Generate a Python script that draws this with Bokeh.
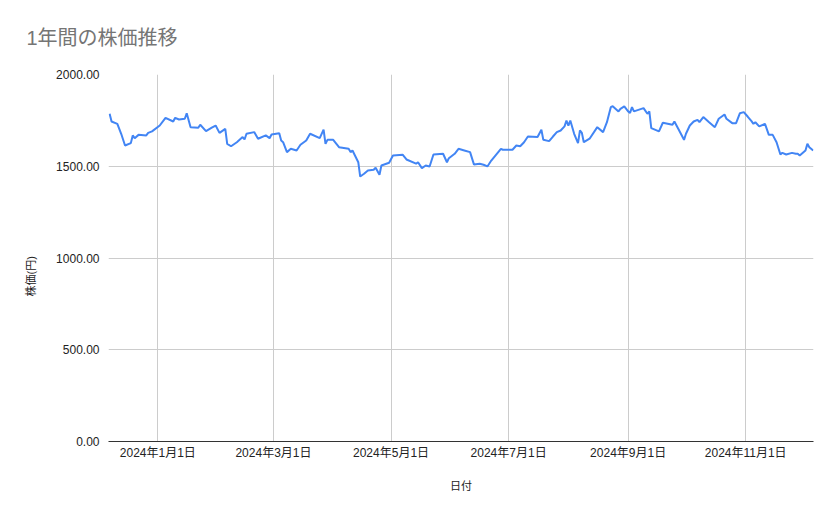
import pandas as pd
from bokeh.plotting import figure
from bokeh.models import Range1d, FixedTicker, NumeralTickFormatter, Title
from bokeh.embed import file_html
from bokeh.resources import INLINE

# ---- data ----
dates = [
    "2023-12-07", "2023-12-08", "2023-12-11", "2023-12-12", "2023-12-13", "2023-12-15",
    "2023-12-18", "2023-12-19", "2023-12-20", "2023-12-22", "2023-12-26", "2023-12-27",
    "2023-12-29", "2024-01-02", "2024-01-05", "2024-01-09", "2024-01-10", "2024-01-12",
    "2024-01-15", "2024-01-16", "2024-01-18", "2024-01-22", "2024-01-23", "2024-01-26",
    "2024-01-29", "2024-01-31", "2024-02-02", "2024-02-05", "2024-02-06", "2024-02-08",
    "2024-02-11", "2024-02-14", "2024-02-15", "2024-02-16", "2024-02-20", "2024-02-22",
    "2024-02-26", "2024-02-28", "2024-02-29", "2024-03-04", "2024-03-05", "2024-03-06",
    "2024-03-08", "2024-03-10", "2024-03-13", "2024-03-15", "2024-03-18", "2024-03-20",
    "2024-03-25", "2024-03-27", "2024-03-28", "2024-03-29", "2024-04-01", "2024-04-04",
    "2024-04-09", "2024-04-10", "2024-04-11", "2024-04-14", "2024-04-15", "2024-04-17",
    "2024-04-19", "2024-04-22", "2024-04-23", "2024-04-25", "2024-04-26", "2024-04-30",
    "2024-05-02", "2024-05-07", "2024-05-09", "2024-05-14", "2024-05-15", "2024-05-17",
    "2024-05-19", "2024-05-21", "2024-05-23", "2024-05-28", "2024-05-30", "2024-05-31",
    "2024-06-03", "2024-06-05", "2024-06-08", "2024-06-11", "2024-06-13", "2024-06-16",
    "2024-06-18", "2024-06-20", "2024-06-22", "2024-06-27", "2024-06-28", "2024-07-03",
    "2024-07-05", "2024-07-07", "2024-07-09", "2024-07-11", "2024-07-16", "2024-07-18",
    "2024-07-19", "2024-07-22", "2024-07-24", "2024-07-26", "2024-07-28", "2024-07-30",
    "2024-07-31", "2024-08-01", "2024-08-02", "2024-08-04", "2024-08-06", "2024-08-07",
    "2024-08-08", "2024-08-09", "2024-08-12", "2024-08-16", "2024-08-19", "2024-08-21",
    "2024-08-23", "2024-08-24", "2024-08-27", "2024-08-28", "2024-08-30", "2024-09-01",
    "2024-09-02", "2024-09-03", "2024-09-04", "2024-09-09", "2024-09-11", "2024-09-12",
    "2024-09-13", "2024-09-17", "2024-09-19", "2024-09-24", "2024-09-25", "2024-09-27",
    "2024-09-30", "2024-10-01", "2024-10-03", "2024-10-05", "2024-10-07", "2024-10-08",
    "2024-10-10", "2024-10-13", "2024-10-16", "2024-10-18", "2024-10-21", "2024-10-22",
    "2024-10-25", "2024-10-27", "2024-10-29", "2024-10-31", "2024-11-02", "2024-11-04",
    "2024-11-05", "2024-11-06", "2024-11-08", "2024-11-11", "2024-11-13", "2024-11-15",
    "2024-11-17", "2024-11-19", "2024-11-20", "2024-11-22", "2024-11-25", "2024-11-27",
    "2024-11-28", "2024-11-29", "2024-12-02", "2024-12-03", "2024-12-04", "2024-12-06",
]
prices = [
    1786, 1744, 1731, 1704, 1677, 1613,
    1626, 1668, 1653, 1671, 1668, 1682,
    1690, 1722, 1764, 1744, 1764, 1755,
    1759, 1789, 1713, 1710, 1726, 1691,
    1710, 1722, 1682, 1704, 1622, 1609,
    1631, 1659, 1646, 1677, 1686, 1650,
    1668, 1653, 1673, 1680, 1640, 1631,
    1577, 1595, 1586, 1617, 1640, 1677,
    1653, 1700, 1622, 1644, 1644, 1604,
    1595, 1577, 1586, 1522, 1444, 1459,
    1477, 1481, 1492, 1454, 1504, 1519,
    1559, 1563, 1537, 1514, 1522, 1490,
    1504, 1499, 1564, 1568, 1522, 1544,
    1568, 1595, 1586, 1577, 1510, 1514,
    1508, 1499, 1531, 1595, 1590, 1590,
    1613, 1609, 1631, 1662, 1659, 1699,
    1644, 1637, 1662, 1686, 1695, 1717,
    1749, 1722, 1749, 1677, 1626, 1695,
    1682, 1631, 1650, 1713, 1686, 1740,
    1822, 1827, 1799, 1813, 1826, 1799,
    1791, 1822, 1799, 1817, 1786, 1799,
    1708, 1690, 1737, 1726, 1744, 1704,
    1644, 1677, 1722, 1744, 1753, 1740,
    1768, 1740, 1713, 1759, 1782, 1759,
    1735, 1735, 1789, 1795, 1771, 1746,
    1731, 1740, 1717, 1731, 1671, 1671,
    1631, 1564, 1573, 1564, 1573, 1568,
    1568, 1559, 1586, 1622, 1604, 1586,
]
tick_dates = ["2024-01-01", "2024-03-01", "2024-05-01", "2024-07-01", "2024-09-01", "2024-11-01"]
tick_labels = ["2024年1月1日", "2024年3月1日", "2024年5月1日", "2024年7月1日", "2024年9月1日", "2024年11月1日"]
y_ticks = [0, 500, 1000, 1500, 2000]

title_text = "1年間の株価推移"
x_title = "日付"
y_title = "株価(円)"

FONT = "'Liberation Sans', 'Noto Sans CJK JP', sans-serif"

x = pd.to_datetime(dates)
tick_ms = [float(pd.Timestamp(d).value // 10**6) for d in tick_dates]

p = figure(
    width=835, height=515,
    x_axis_type="datetime",
    output_backend="svg", toolbar_location=None,
    min_border_left=108, min_border_right=22,
    min_border_top=74, min_border_bottom=74,
)
p.x_range = Range1d(x.min() - pd.Timedelta(hours=14), x.max() + pd.Timedelta(hours=4))
p.y_range = Range1d(0, 2000)

p.line(x, prices, line_color="#4285F4", line_width=2)

# chart title
p.title.text = title_text
p.title.text_font = FONT
p.title.text_font_size = "20px"
p.title.text_font_style = "normal"
p.title.text_color = "#757575"
p.title.align = "left"
p.title.vertical_align = "middle"
p.title.offset = -82
p.title.standoff = 50

# y-axis title as a side title (allows shifting along the axis)
p.add_layout(Title(
    text=y_title, text_font=FONT, text_font_size="11px", text_font_style="normal",
    text_color="#222222", align="left", offset=145, standoff=34,
), "left")

# x axis
xa = p.xaxis[0]
xa.ticker = FixedTicker(ticks=tick_ms)
xa.major_label_overrides = {t: l for t, l in zip(tick_ms, tick_labels)}
xa.major_label_text_font = FONT
xa.major_label_text_font_size = "12px"
xa.major_label_text_color = "#222222"
xa.major_label_standoff = -2
xa.major_tick_line_color = None
xa.minor_tick_line_color = None
xa.axis_line_color = "#333333"
xa.axis_line_width = 1
xa.axis_label = x_title
xa.axis_label_text_font = FONT
xa.axis_label_text_font_size = "11px"
xa.axis_label_text_font_style = "normal"
xa.axis_label_text_color = "#222222"
xa.axis_label_standoff = 17

# y axis
ya = p.yaxis[0]
ya.ticker = FixedTicker(ticks=y_ticks)
ya.formatter = NumeralTickFormatter(format="0.00")
ya.major_label_text_font = FONT
ya.major_label_text_font_size = "12px"
ya.major_label_text_color = "#222222"
ya.major_label_standoff = 3
ya.major_tick_line_color = None
ya.minor_tick_line_color = None
ya.axis_line_color = None

p.xgrid.grid_line_color = "#cccccc"
p.ygrid.grid_line_color = "#cccccc"
p.xgrid.ticker = xa.ticker
p.ygrid.ticker = ya.ticker
p.outline_line_color = None
p.background_fill_color = "white"
p.border_fill_color = "white"

open("out.html", "w").write(file_html(p, INLINE))
